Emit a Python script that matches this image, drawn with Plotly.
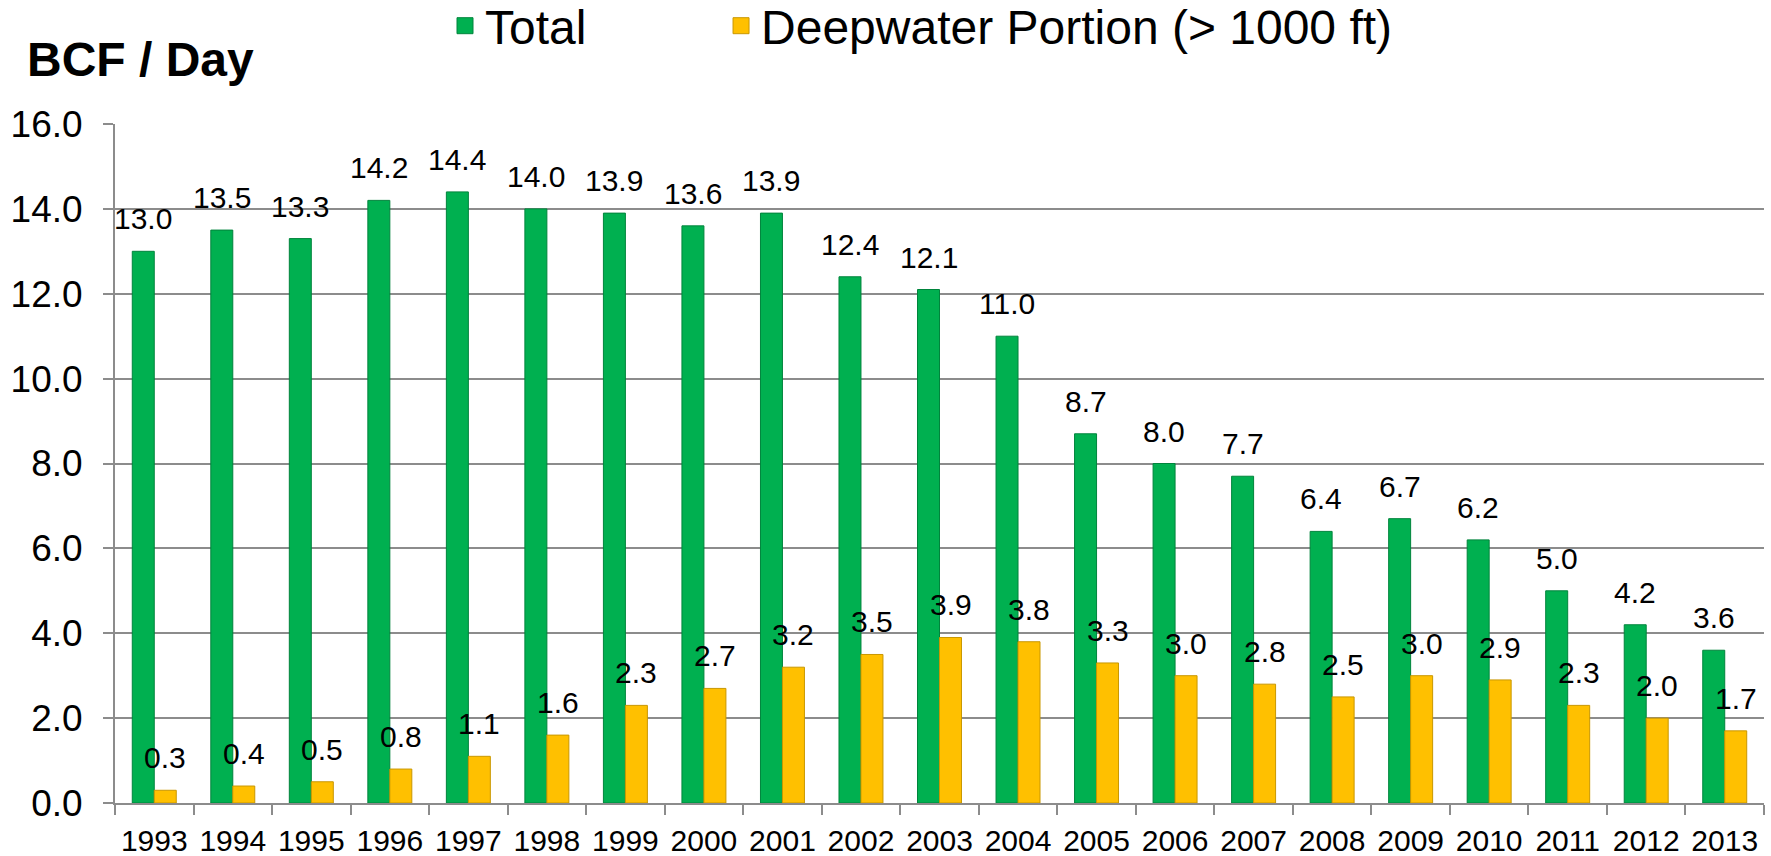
import plotly.graph_objects as go

years = [str(y) for y in range(1993, 2014)]
total = [13.0, 13.5, 13.3, 14.2, 14.4, 14.0, 13.9, 13.6, 13.9, 12.4, 12.1, 11.0,
         8.7, 8.0, 7.7, 6.4, 6.7, 6.2, 5.0, 4.2, 3.6]
deep = [0.3, 0.4, 0.5, 0.8, 1.1, 1.6, 2.3, 2.7, 3.2, 3.5, 3.9, 3.8,
        3.3, 3.0, 2.8, 2.5, 3.0, 2.9, 2.3, 2.0, 1.7]
series_names = ["Total", "Deepwater Portion (> 1000 ft)"]

GREEN = "#00B050"
GREEN_EDGE = "#00843C"
YELLOW = "#FFC000"
YELLOW_EDGE = "#C99700"
FONT = "Liberation Sans, Arial, sans-serif"

W, H = 1771, 856
fig = go.Figure()
fig.add_trace(go.Bar(x=years, y=total, name=series_names[0], marker=dict(color=GREEN, line=dict(color=GREEN_EDGE, width=1)), showlegend=False))
fig.add_trace(go.Bar(x=years, y=deep, name=series_names[1], marker=dict(color=YELLOW, line=dict(color=YELLOW_EDGE, width=1)), showlegend=False))

# legend proxies (no visible data)
fig.add_trace(go.Scatter(x=[years[0]], y=[None], mode="markers", name=series_names[0] + "\u00a0" * 9 + "\u2009",
                         marker=dict(symbol="square", size=22, color=GREEN, line=dict(color=GREEN_EDGE, width=1))))
fig.add_trace(go.Scatter(x=[years[0]], y=[None], mode="markers", name=series_names[1],
                         marker=dict(symbol="square", size=22, color=YELLOW, line=dict(color=YELLOW_EDGE, width=1))))

annots = []
for i, v in enumerate(total):
    annots.append(dict(x=i, y=v, text=f"{v:.1f}", xref="x", yref="y", showarrow=False,
                       xanchor="center", yanchor="bottom", xshift=-11, yshift=14,
                       font=dict(size=30, color="black", family=FONT)))
for i, v in enumerate(deep):
    annots.append(dict(x=i, y=v, text=f"{v:.1f}", xref="x", yref="y", showarrow=False,
                       xanchor="center", yanchor="bottom", xshift=11, yshift=14,
                       font=dict(size=30, color="black", family=FONT)))

fig.update_layout(
    width=W, height=H,
    margin=dict(l=115, r=7, t=124, b=53, autoexpand=False),
    paper_bgcolor="white", plot_bgcolor="white",
    barmode="group", bargap=0.44, bargroupgap=0,
    font=dict(family=FONT, color="black"),
    title=dict(text="<b>BCF / Day</b>", font=dict(size=48, color="black", family=FONT),
               xref="container", yref="container", x=27 / W, xanchor="left",
               y=1 - 59 / H, yanchor="middle"),
    legend=dict(orientation="h", xref="container", yref="container",
                x=445 / W, xanchor="left", y=1 - 26 / H, yanchor="middle",
                font=dict(size=48, color="black", family=FONT),
                itemclick=False, bgcolor="rgba(0,0,0,0)"),
    annotations=annots,
)
fig.update_xaxes(type="category", tickson="boundaries", ticks="outside", ticklen=10,
                 tickcolor="#8C8C8C", tickwidth=2, showline=True, linecolor="#8C8C8C", linewidth=2,
                 showgrid=False, tickfont=dict(size=30, color="black", family=FONT),
                 ticklabelstandoff=10, range=[-0.5, 20.5])
fig.update_yaxes(range=[0, 16], dtick=2, tickformat=".1f", showgrid=True, gridcolor="#8C8C8C",
                 gridwidth=2, showline=True, linecolor="#8C8C8C", linewidth=2,
                 ticks="outside", ticklen=10, tickcolor="#8C8C8C", tickwidth=2,
                 tickfont=dict(size=37, color="black", family=FONT), ticklabelstandoff=13,
                 zeroline=False)

fig.write_html("out.html", config={"displayModeBar": False},
               post_script="document.body.style.margin='0';document.body.style.overflow='hidden';")
